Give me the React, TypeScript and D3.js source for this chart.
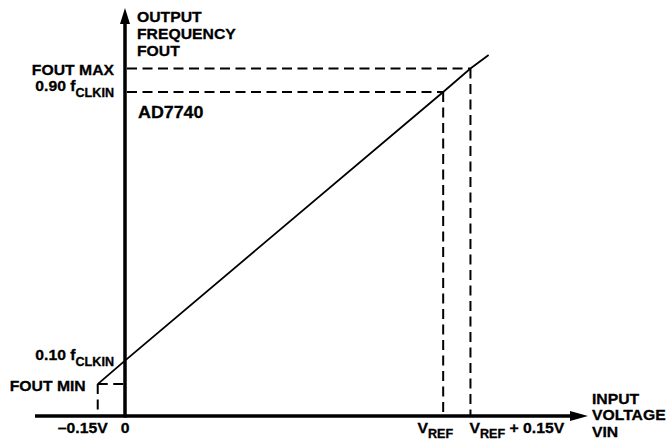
import React, { useRef, useEffect } from 'react'
import * as d3 from 'd3'

// input voltage in volts (VREF taken as 1.75 V for the sketch)
const xTickValues = [-0.15, 0, 1.75, 1.9]
const xLabelMain = ['\u20130.15V', '0', 'V', 'V']
const xLabelSub = ['', '', 'REF', 'REF']
const xLabelTail = ['', '', '', ' + 0.15V']

// output frequency as a fraction of fCLKIN
const yTickValues = [0.03, 0.1, 0.9, 0.97]
const yLabelMain = ['FOUT MIN', '0.10 f', '0.90 f', 'FOUT MAX']
const yLabelSub = ['', 'CLKIN', 'CLKIN', '']

// transfer function points
const lineVin = [-0.15, 0, 1.75, 1.9, 2.0]
const lineFout = [0.03, 0.1, 0.9, 0.97, 1.01]

const yTitle = ['OUTPUT', 'FREQUENCY', 'FOUT']
const xTitle = ['INPUT', 'VOLTAGE', 'VIN']
const partName = 'AD7740'

const W = 668,
	H = 441
const FONT = '"Liberation Sans", Arial, Helvetica, sans-serif'
const SX = 1.05 // text in the figure is a little wide

const App = () => {
	const svgRef = useRef<SVGSVGElement | null>(null)

	useEffect(() => {
		const svg = d3.select(svgRef.current)
		svg.selectAll('*').remove()

		const x = d3.scaleLinear().domain([-0.495, 2.53]).range([35, 585])
		const y = d3.scaleLinear().domain([-0.065, 1.15]).range([416, 8])

		const x0 = x(0)
		const y0 = y(-0.065)

		// dashed guides
		const guides = svg.append('g').attr('stroke', '#000').attr('stroke-width', 2).attr('fill', 'none').attr('stroke-dasharray', '10,5.5')
		xTickValues.forEach((v, i) => {
			if (v === 0) return
			const fy = yTickValues[i]
			guides
				.append('line')
				.attr('x1', v < 0 ? x(v) : x0 + 2)
				.attr('x2', v < 0 ? x0 - 1 : x(v))
				.attr('y1', y(fy))
				.attr('y2', y(fy))
			guides
				.append('line')
				.attr('x1', x(v))
				.attr('x2', x(v))
				.attr('y1', y(fy))
				.attr('y2', y0)
		})

		// transfer line
		const pts = lineVin.map((v, i) => [v, lineFout[i]] as [number, number])
		svg
			.append('path')
			.datum(pts)
			.attr('d', d3.line<[number, number]>().x((d) => x(d[0])).y((d) => y(d[1])))
			.attr('fill', 'none')
			.attr('stroke', '#000')
			.attr('stroke-width', 1.8)

		// axes
		svg.append('line').attr('x1', x(-0.495)).attr('x2', 572).attr('y1', y0).attr('y2', y0).attr('stroke', '#000').attr('stroke-width', 3.5)
		svg.append('line').attr('x1', x0).attr('x2', x0).attr('y1', y0 + 1.5).attr('y2', 22).attr('stroke', '#000').attr('stroke-width', 3.5)
		svg.append('path').attr('d', `M${x0},${y(1.15)} L${x0 - 5},${y(1.15) + 16} L${x0 + 5},${y(1.15) + 16} Z`).attr('fill', '#000')
		svg.append('path').attr('d', `M${x(2.53) + 3},${y0} L${x(2.53) - 15},${y0 - 5} L${x(2.53) - 15},${y0 + 5} Z`).attr('fill', '#000')

		const label = (tx: number, ty: number, anchor: string, main: string, sub = '', tail = '', size = 15, subDy = 6) => {
			const g = svg.append('g').attr('transform', `translate(${tx},${ty}) scale(${SX},1)`)
			const t = g
				.append('text')
				.attr('text-anchor', anchor)
				.attr('font-family', FONT)
				.attr('font-weight', 'bold')
				.attr('font-size', size)
				.attr('fill', '#000')
				.attr('stroke', '#000')
				.attr('stroke-width', 0.3)
			t.append('tspan').text(main)
			if (sub) t.append('tspan').attr('font-size', 12).attr('dy', subDy).text(sub)
			if (tail) t.append('tspan').attr('dy', -subDy).text(tail)
		}

		// y tick labels
		yTickValues.forEach((v, i) => {
			const right = xTickValues[i] < 0 ? x(xTickValues[i]) - 12 : x0 - 11
			label(right, y(v) + (yLabelSub[i] ? -0.5 : 6.5), 'end', yLabelMain[i], yLabelSub[i])
		})

		// x tick labels
		xTickValues.forEach((v, i) => {
			const anchor = v === 0 ? 'middle' : xLabelTail[i] ? 'start' : 'end'
			const tx = v === 0 ? x(v) : xLabelTail[i] ? x(v) - 1 : x(v) + 10
			label(tx, 432.5, anchor, xLabelMain[i], xLabelSub[i], xLabelTail[i], 15, 5)
		})

		// axis titles
		yTitle.forEach((s, i) => label(137, 21.5 + i * 17, 'start', s))
		xTitle.forEach((s, i) => label(592, 404 + i * 16.3, 'start', s))
		label(138, 118, 'start', partName, '', '', 17)
	}, [])

	return (
		<svg
			ref={svgRef}
			width={W}
			height={H}
			style={{ position: 'absolute', left: 0, top: 0, background: '#fff', display: 'block' }}
		></svg>
	)
}

export default App
